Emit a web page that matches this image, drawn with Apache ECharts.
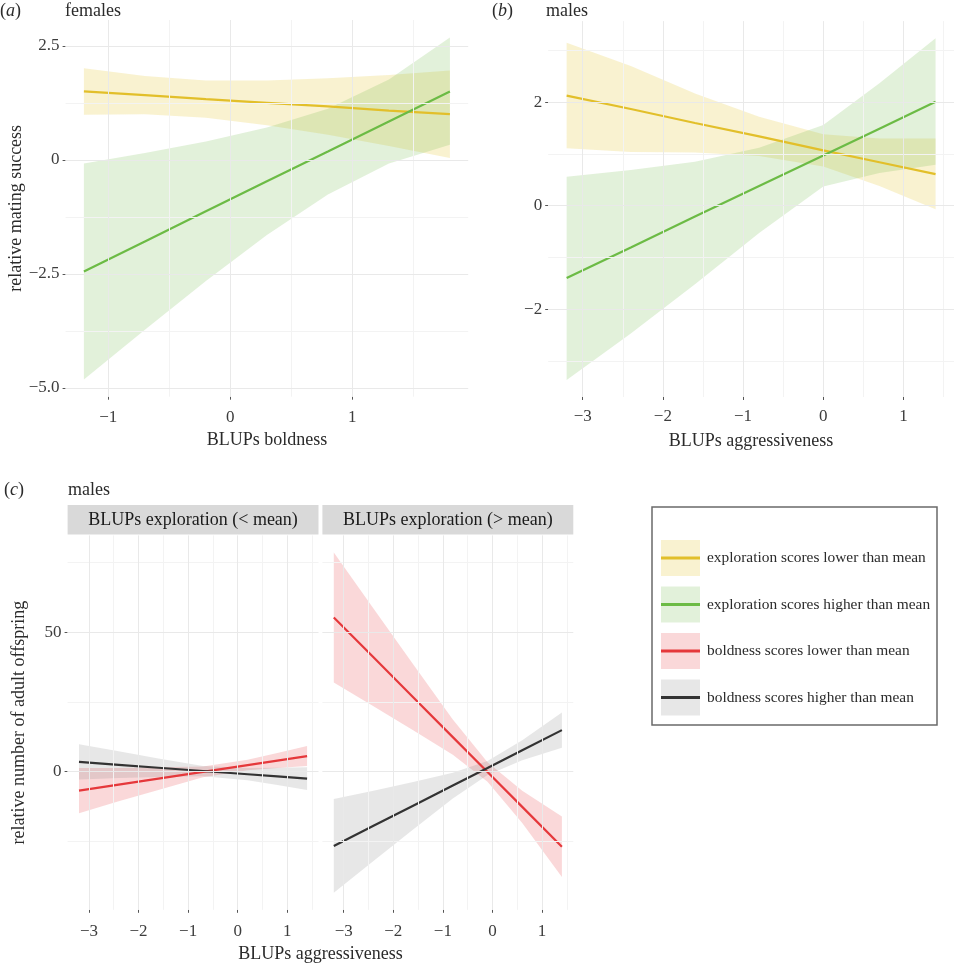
<!DOCTYPE html>
<html>
<head>
<meta charset="utf-8">
<script src="https://cdn.jsdelivr.net/npm/echarts@6/dist/echarts.min.js"></script>
<style>
  html, body { margin: 0; padding: 0; background: #fff; }
  #chart { width: 956px; height: 964px; }
</style>
</head>
<body>
<div id="chart"></div>
<script>
// (a) females: relative mating success vs BLUPs boldness
const femX = [-1.2, -0.7, -0.2, 0.3, 0.8, 1.3, 1.8];
const femExpLowFit = [1.50, 1.42, 1.33, 1.25, 1.17, 1.08, 1.00];
const femExpLowUpper = [2.01, 1.84, 1.74, 1.74, 1.79, 1.86, 1.96];
const femExpLowLower = [0.99, 1.00, 0.92, 0.76, 0.55, 0.30, 0.04];
const femExpHighFit = [-2.45, -1.79, -1.13, -0.47, 0.18, 0.84, 1.50];
const femExpHighUpper = [-0.08, 0.15, 0.40, 0.71, 1.12, 1.76, 2.68];
const femExpHighLower = [-4.82, -3.73, -2.66, -1.65, -0.76, -0.08, 0.33];

// (b) males: relative mating success vs BLUPs aggressiveness
const malX = [-3.2, -2.4, -1.6, -0.8, 0, 0.7, 1.4];
const malExpLowFit = [2.13, 1.87, 1.60, 1.34, 1.07, 0.84, 0.61];
const malExpLowUpper = [3.15, 2.70, 2.17, 1.72, 1.38, 1.30, 1.30];
const malExpLowLower = [1.11, 1.04, 1.03, 0.96, 0.76, 0.38, -0.07];
const malExpHighFit = [-1.40, -0.81, -0.21, 0.38, 0.97, 1.49, 2.01];
const malExpHighUpper = [0.56, 0.69, 0.85, 1.12, 1.56, 2.37, 3.24];
const malExpHighLower = [-3.37, -2.47, -1.52, -0.53, 0.37, 0.63, 0.79];

// (c) males: relative number of adult offspring, exploration < mean
const offLowX = [-3.2, -2.4, -1.6, -0.7, 0.2, 0.8, 1.4];
const offLowBoldLowFit = [-6.8, -4.64, -2.48, -0.05, 2.38, 4.0, 5.6];
const offLowBoldLowUpper = [1.3, 1.36, 1.62, 1.85, 4.28, 6.7, 9.2];
const offLowBoldLowLower = [-14.9, -10.6, -6.6, -1.95, 0.48, 1.3, 2.0];
const offLowBoldHighFit = [3.5, 2.46, 1.42, 0.25, -0.92, -1.70, -2.5];
const offLowBoldHighUpper = [9.8, 7.3, 4.7, 2.0, 1.3, 1.4, 1.6];
const offLowBoldHighLower = [-2.8, -2.3, -1.9, -1.6, -3.1, -4.8, -6.6];

// (c) exploration > mean
const offHighX = [-3.2, -2.4, -1.6, -0.8, -0.1, 0.6, 1.4];
const offHighBoldLowFit = [55.3, 41.0, 26.7, 12.4, -0.1, -12.6, -26.9];
const offHighBoldLowUpper = [78.6, 58.5, 38.5, 18.7, 3.4, -6.8, -16.1];
const offHighBoldLowLower = [32.0, 23.5, 14.9, 6.1, -3.6, -18.4, -37.7];
const offHighBoldHighFit = [-26.6, -19.4, -12.2, -4.96, 1.35, 7.7, 14.9];
const offHighBoldHighUpper = [-9.8, -6.8, -3.7, -0.4, 3.85, 11.3, 21.2];
const offHighBoldHighLower = [-43.4, -32.0, -20.7, -9.6, -1.15, 4.1, 8.6];

// ticks
const aXTicks = [-1, 0, 1];
const aXMinor = [-0.5, 0.5, 1.5];
const aYTicks = [-5, -2.5, 0, 2.5];
const aYLabels = ['−5.0', '−2.5', '0', '2.5'];
const aYMinor = [-3.75, -1.25, 1.25];
const aggTicks = [-3, -2, -1, 0, 1];
const aggMinor = [-2.5, -1.5, -0.5, 0.5, 1.5];
const bYTicks = [-2, 0, 2];
const bYMinor = [-3, -1, 1, 3];
const cYTicks = [0, 50];
const cYMinor = [-25, 25, 75];

const stripLabels = ['BLUPs exploration (< mean)', 'BLUPs exploration (> mean)'];
const legendNames = [
  'exploration scores lower than mean',
  'exploration scores higher than mean',
  'boldness scores lower than mean',
  'boldness scores higher than mean'
];

const FONT = '"Liberation Serif", "Times New Roman", serif';
const TEXT = '#2b2b2b';
const TICK_TEXT = '#3d3d3d';
const lineColors = ['#e2bf2a', '#6cbb45', '#e5383b', '#333333'];
const fillColors = [
  'rgba(228,194,40,0.22)',
  'rgba(110,185,70,0.2)',
  'rgba(232,60,64,0.2)',
  'rgba(120,120,120,0.18)'
];

const fmt = (v) => (v < 0 ? '−' + Math.abs(v) : String(v));

function labelFrom(ticks, labels) {
  return (v) => {
    const i = ticks.findIndex((t) => Math.abs(t - v) < 1e-9);
    return i >= 0 ? labels[i] : '';
  };
}

function makeAxis(grid, min, max, ticks, formatter, margin, extra) {
  return Object.assign({
    type: 'value',
    gridIndex: grid,
    min, max,
    axisLine: { show: false, onZero: false },
    axisTick: { show: ticks.length > 0, length: 3, customValues: ticks, lineStyle: { color: '#555', width: 1 } },
    axisLabel: {
      show: ticks.length > 0, customValues: ticks, formatter,
      color: TICK_TEXT, fontFamily: FONT, fontSize: 17, margin
    },
    splitLine: { show: false },
    nameLocation: 'middle',
    nameTextStyle: { color: TEXT, fontFamily: FONT, fontSize: 18 }
  }, extra || {});
}

function gridSeries(idx, xMajor, xMinor, yMajor, yMinor) {
  const major = { color: '#e9e9e9', width: 1, type: 'solid' };
  const minor = { color: '#f3f3f3', width: 1, type: 'solid' };
  return {
    type: 'line', xAxisIndex: idx, yAxisIndex: idx, data: [], z: 1, silent: true,
    markLine: {
      silent: true, symbol: ['none', 'none'], label: { show: false }, animation: false,
      data: [].concat(
        xMinor.map((v) => ({ xAxis: v, lineStyle: minor })),
        yMinor.map((v) => ({ yAxis: v, lineStyle: minor })),
        xMajor.map((v) => ({ xAxis: v, lineStyle: major })),
        yMajor.map((v) => ({ yAxis: v, lineStyle: major }))
      )
    }
  };
}

function ribbon(idx, xs, lo, hi, fill) {
  const rows = xs.map((x, i) => [x, lo[i], hi[i]]);
  return {
    type: 'custom', xAxisIndex: idx, yAxisIndex: idx, z: 2, silent: true,
    data: rows,
    encode: { x: 0, y: [1, 2] },
    renderItem(params, api) {
      if (params.dataIndex !== 0) return null;
      const top = rows.map((r) => api.coord([r[0], r[2]]));
      const bottom = rows.map((r) => api.coord([r[0], r[1]])).reverse();
      return { type: 'polygon', shape: { points: top.concat(bottom) }, style: { fill } };
    }
  };
}

function fit(idx, xs, ys, color) {
  return {
    type: 'line', xAxisIndex: idx, yAxisIndex: idx, z: 3, silent: true,
    data: xs.map((x, i) => [x, ys[i]]),
    symbol: 'none', showSymbol: false,
    lineStyle: { color, width: 2.2 }, itemStyle: { color }
  };
}

const grids = [
  { left: 65.6, top: 20, width: 402.6, height: 376.7 },
  { left: 548.2, top: 21.1, width: 405.8, height: 375.9 },
  { left: 67.6, top: 535.4, width: 250.9, height: 374.4 },
  { left: 322.4, top: 535.4, width: 250.9, height: 374.4 }
];

const xAxes = [
  makeAxis(0, -1.35, 1.95, aXTicks, fmt, 12, { name: 'BLUPs boldness', nameGap: 35 }),
  makeAxis(1, -3.43, 1.63, aggTicks, fmt, 11, { name: 'BLUPs aggressiveness', nameGap: 35 }),
  makeAxis(2, -3.43, 1.63, aggTicks, fmt, 13),
  makeAxis(3, -3.43, 1.63, aggTicks, fmt, 13)
];

const yAxes = [
  makeAxis(0, -5.196, 3.066, aYTicks, labelFrom(aYTicks, aYLabels), 6, { name: 'relative mating success', nameGap: 38 }),
  makeAxis(1, -3.70, 3.57, bYTicks, fmt, 6),
  makeAxis(2, -49.5, 84.7, cYTicks, fmt, 6, { name: 'relative number of adult offspring', nameGap: 39 }),
  makeAxis(3, -49.5, 84.7, [], fmt, 6)
];

const series = [
  gridSeries(0, aXTicks, aXMinor, aYTicks, aYMinor),
  gridSeries(1, aggTicks, aggMinor, bYTicks, bYMinor),
  gridSeries(2, aggTicks, aggMinor, cYTicks, cYMinor),
  gridSeries(3, aggTicks, aggMinor, cYTicks, cYMinor),

  ribbon(0, femX, femExpLowLower, femExpLowUpper, fillColors[0]),
  ribbon(0, femX, femExpHighLower, femExpHighUpper, fillColors[1]),
  fit(0, femX, femExpLowFit, lineColors[0]),
  fit(0, femX, femExpHighFit, lineColors[1]),

  ribbon(1, malX, malExpLowLower, malExpLowUpper, fillColors[0]),
  ribbon(1, malX, malExpHighLower, malExpHighUpper, fillColors[1]),
  fit(1, malX, malExpLowFit, lineColors[0]),
  fit(1, malX, malExpHighFit, lineColors[1]),

  ribbon(2, offLowX, offLowBoldLowLower, offLowBoldLowUpper, fillColors[2]),
  ribbon(2, offLowX, offLowBoldHighLower, offLowBoldHighUpper, fillColors[3]),
  fit(2, offLowX, offLowBoldLowFit, lineColors[2]),
  fit(2, offLowX, offLowBoldHighFit, lineColors[3]),

  ribbon(3, offHighX, offHighBoldLowLower, offHighBoldLowUpper, fillColors[2]),
  ribbon(3, offHighX, offHighBoldHighLower, offHighBoldHighUpper, fillColors[3]),
  fit(3, offHighX, offHighBoldLowFit, lineColors[2]),
  fit(3, offHighX, offHighBoldHighFit, lineColors[3])
];

function txt(x, y, text, opts) {
  return {
    type: 'text', x, y, silent: true,
    style: Object.assign({
      text, fill: TEXT, font: '18px ' + FONT,
      textAlign: 'left', textVerticalAlign: 'middle'
    }, opts || {})
  };
}

const graphics = [
  txt(0, 11, '('),
  txt(6, 11, 'a', { font: 'italic 18px ' + FONT }),
  txt(15, 11, ')'),
  txt(65, 11, 'females'),
  txt(492, 11, '('),
  txt(498, 11, 'b', { font: 'italic 18px ' + FONT }),
  txt(507, 11, ')'),
  txt(546, 11, 'males'),
  txt(4, 490, '('),
  txt(10, 490, 'c', { font: 'italic 18px ' + FONT }),
  txt(18, 490, ')'),
  txt(68, 490, 'males'),
  txt(320.5, 954, 'BLUPs aggressiveness', { textAlign: 'center' })
];

// facet strips
[2, 3].forEach((g, i) => {
  const gr = grids[g];
  graphics.push({
    type: 'rect', silent: true,
    shape: { x: gr.left, y: 505, width: gr.width, height: 29.5 },
    style: { fill: '#d9d9d9' }
  });
  graphics.push(txt(gr.left + gr.width / 2, 520, stripLabels[i], { textAlign: 'center', fill: '#1a1a1a' }));
});

// legend
graphics.push({
  type: 'rect', silent: true,
  shape: { x: 652, y: 507, width: 285, height: 218 },
  style: { fill: '#fff', stroke: '#6a6a6a', lineWidth: 1.5 }
});
legendNames.forEach((name, i) => {
  const top = 540 + i * 46.5;
  graphics.push({ type: 'rect', silent: true, shape: { x: 661, y: top, width: 39, height: 36 }, style: { fill: fillColors[i] } });
  graphics.push({ type: 'line', silent: true, shape: { x1: 661, y1: top + 18, x2: 700, y2: top + 18 }, style: { stroke: lineColors[i], lineWidth: 3 } });
  graphics.push(txt(707, top + 18, name, { font: '15.4px ' + FONT }));
});

const chart = echarts.init(document.getElementById('chart'));
chart.setOption({
  backgroundColor: '#fff',
  animation: false,
  grid: grids,
  xAxis: xAxes,
  yAxis: yAxes,
  series,
  graphic: { elements: graphics }
});
window.addEventListener('resize', () => chart.resize());
</script>
</body>
</html>
